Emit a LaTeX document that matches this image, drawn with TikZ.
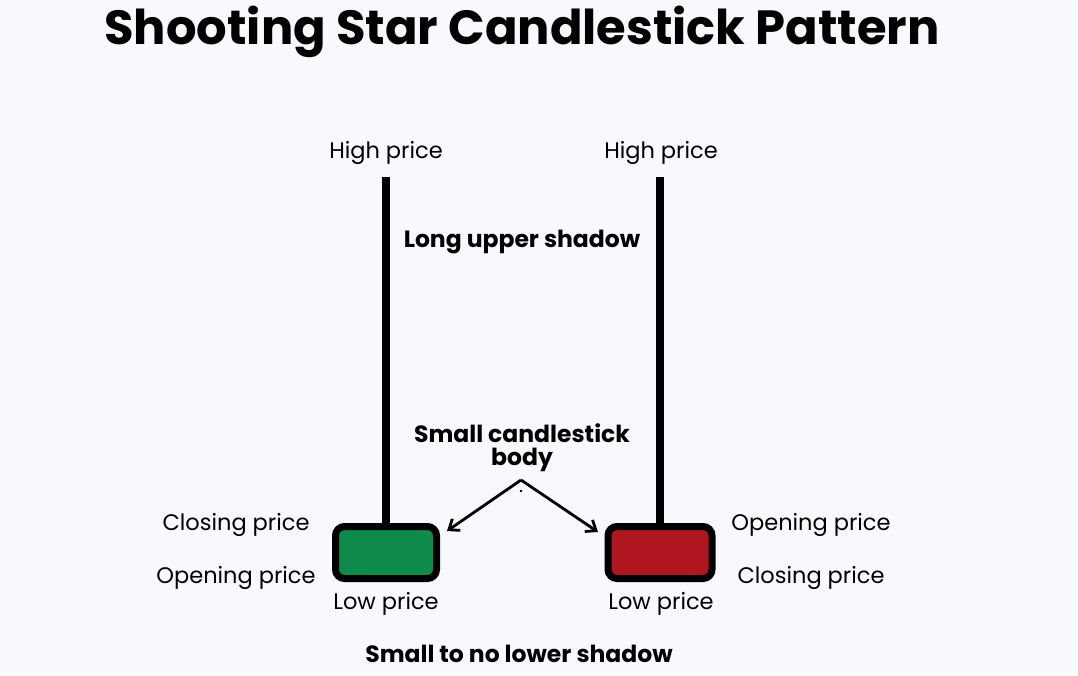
\documentclass[tikz,border=0pt]{standalone}
\usepackage{fontspec}
\setmainfont{Poppins}
\usetikzlibrary{arrows.meta}
\definecolor{bg}{HTML}{F8F9FD}
\definecolor{gr}{HTML}{0E8A4A}
\definecolor{rd}{HTML}{B0161F}
\begin{document}
\begin{tikzpicture}[x=1pt,y=-1pt,
  lbl/.style={font=\fontsize{22.5}{26}\selectfont, inner sep=0pt},
  blbl/.style={font=\fontsize{23.5}{23}\selectfont\bfseries, inner sep=0pt, align=center},
  wick/.style={line width=8pt},
  body/.style={draw=black, line width=7pt, rounded corners=9pt},
  arr/.style={line width=2.8pt, -{Straight Barb[length=9pt,width=14pt,line width=2.8pt]}}]
\fill[bg] (0,0) rectangle (1078,675);
\useasboundingbox (0,0) rectangle (1078,675);
\node[inner sep=0pt, font=\fontsize{48}{52}\selectfont\bfseries] (title) at (522,32) {Shooting Star Candlestick Pattern};
% green candle
\coordinate (gtop) at (386,177);
\node[body, fill=gr, minimum width=101pt, minimum height=52pt] (gb) at (386,552.5) {};
\draw[wick] (gtop) -- (gb.north);
% red candle
\coordinate (rtop) at (660,177);
\node[body, fill=rd, minimum width=104pt, minimum height=52pt] (rb) at (660,552.5) {};
\draw[wick] (rtop) -- (rb.north);
% labels
\node[lbl] (gh) at (386,153) {High price};
\node[lbl] (rh) at (661,153) {High price};
\node[blbl] (lus) at (522,242) {Long upper shadow};
\node[blbl] (scb) at (522,448) {Small candlestick\\body};
\coordinate (apex) at (521,480);
\draw[arr] (apex) -- (447,531);
\draw[arr] (apex) -- (598,532);
\fill (521,491) circle (1.3pt);
\node[lbl] (gc) at (236,525) {Closing price};
\node[lbl] (go) at (236,578) {Opening price};
\node[lbl] (gl) at (386,604) {Low price};
\node[lbl] (ro) at (811,525) {Opening price};
\node[lbl] (rc) at (811,578) {Closing price};
\node[lbl] (rl) at (661,604) {Low price};
\node[blbl] (sns) at (519,654) {Small to no lower shadow};
\end{tikzpicture}
\end{document}
